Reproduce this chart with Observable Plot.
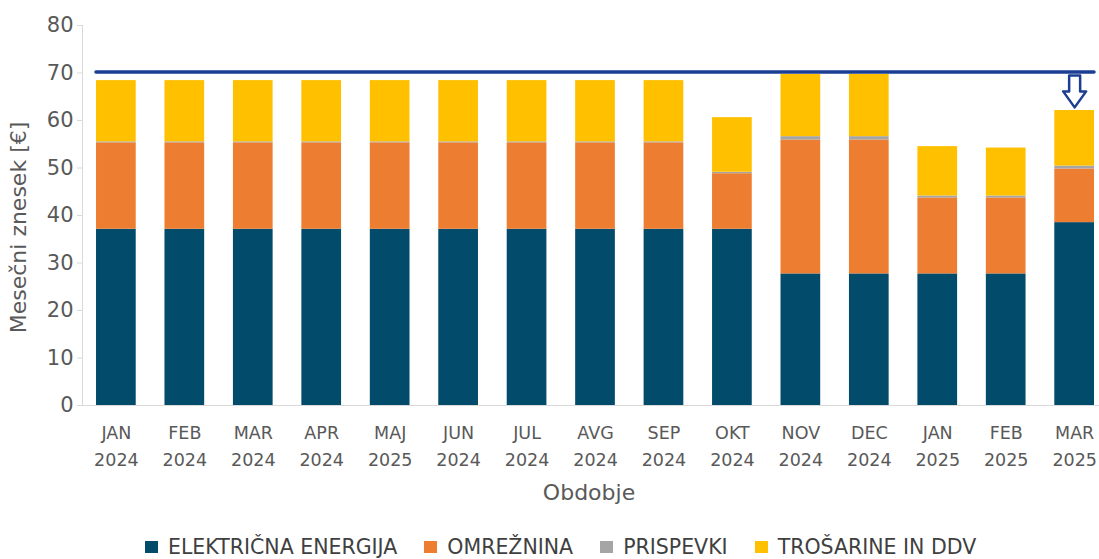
<!DOCTYPE html>
<html>
<head>
<meta charset="utf-8">
<script src="https://cdn.jsdelivr.net/npm/d3@7"></script>
<script src="https://cdn.jsdelivr.net/npm/@observablehq/plot@0.6"></script>
<style>
  html, body { margin: 0; padding: 0; background: #fff; overflow: hidden; }
  #chart { width: 1099px; height: 525px; }
  #legend { width: 1099px; margin-top: 11px; padding-left: 145px; box-sizing: border-box; }
  #legend > div { min-height: 22px !important; height: 22px; margin: 0 !important; line-height: 1 !important; }
  #legend span { margin-right: 27px !important; line-height: 1 !important; }
  #legend svg { margin-right: 10px !important; }
</style>
</head>
<body>
<div id="chart"></div>
<div id="legend"></div>
<script>
const months = ["JAN 2024","FEB 2024","MAR 2024","APR 2024","MAJ 2025","JUN 2024","JUL 2024","AVG 2024","SEP 2024","OKT 2024","NOV 2024","DEC 2024","JAN 2025","FEB 2025","MAR 2025"];
const series = ["ELEKTRIČNA ENERGIJA", "OMREŽNINA", "PRISPEVKI", "TROŠARINE IN DDV"];
const colors = ["#034b6a", "#ed7d31", "#a5a5a5", "#ffc000"];
const energija  = [37.1, 37.1, 37.1, 37.1, 37.1, 37.1, 37.1, 37.1, 37.1, 37.1, 27.7, 27.7, 27.7, 27.7, 38.5];
const omreznina = [18.2, 18.2, 18.2, 18.2, 18.2, 18.2, 18.2, 18.2, 18.2, 11.7, 28.2, 28.2, 16.0, 16.0, 11.3];
const prispevki = [0.2, 0.2, 0.2, 0.2, 0.2, 0.2, 0.2, 0.2, 0.2, 0.3, 0.7, 0.7, 0.4, 0.4, 0.6];
const trosarine = [12.9, 12.9, 12.9, 12.9, 12.9, 12.9, 12.9, 12.9, 12.9, 11.5, 13.1, 13.1, 10.4, 10.1, 11.7];
const limitValue = 70.2;
const yTicks = [0, 10, 20, 30, 40, 50, 60, 70, 80];
const yLabel = "Mesečni znesek [€]";
const xLabel = "Obdobje";
const arrowTop = 69.5;

const valuesBySeries = [energija, omreznina, prispevki, trosarine];
const data = [];
months.forEach((m, i) => {
  series.forEach((s, j) => data.push({month: m, series: s, value: valuesBySeries[j][i]}));
});
const limitRow = [{x1: months[0], x2: months[months.length - 1], y: limitValue}];

const font = "'DejaVu Sans', sans-serif";
const gray = "#595959";
const navy = "#1b3d93";

const hollowArrow = {
  draw(context, l) {
    const sw = 5.5, hw = 11.5, hl = 16;
    context.moveTo(-sw, 0);
    context.lineTo(-sw, -(l - hl));
    context.lineTo(-hw, -(l - hl));
    context.lineTo(0, -l);
    context.lineTo(hw, -(l - hl));
    context.lineTo(sw, -(l - hl));
    context.lineTo(sw, 0);
    context.closePath();
  }
};

const chart = Plot.plot({
  width: 1099,
  height: 525,
  marginTop: 25,
  marginBottom: 120,
  marginLeft: 82,
  marginRight: 0,
  style: {fontFamily: font, color: gray, background: "#fff"},
  x: {domain: months, paddingInner: 0.42, paddingOuter: 0.139, align: 0.737, round: false},
  y: {domain: [0, 80]},
  color: {domain: series, range: colors},
  marks: [
    Plot.frame({anchor: "left", stroke: "#d9d9d9"}),
    Plot.ruleY([0], {stroke: "#d9d9d9"}),
    Plot.barY(data, {x: "month", y: "value", fill: "series", order: series}),
    Plot.ruleY(limitRow, {x1: "x1", x2: "x2", y: "y", stroke: navy, strokeWidth: 3.5, strokeLinecap: "round"}),
    Plot.vector([{month: months[months.length - 1], y: arrowTop}], {
      x: "month", y: "y", length: 32, rotate: 180, anchor: "start",
      shape: hollowArrow, fill: "#fff", stroke: navy, strokeWidth: 2.5
    }),
    Plot.axisY({ticks: yTicks, tickSize: 5, tickPadding: 4, fontSize: 21, stroke: "#d9d9d9", fill: gray, label: null}),
    Plot.axisX({tickSize: 0, tickPadding: 14, fontSize: 17.5, lineHeight: 1.55, fill: gray,
      tickFormat: d => d.replace(" ", "\n"), label: null}),
    Plot.text([yLabel], {frameAnchor: "left", textAnchor: "middle", rotate: -90, dx: -64, dy: 12, fontSize: 22, fill: gray}),
    Plot.text([xLabel], {frameAnchor: "bottom", dx: -2, dy: 94, fontSize: 22, fill: gray})
  ]
});
document.getElementById("chart").appendChild(chart);

const legend = Plot.legend({
  color: {domain: series, range: colors},
  legend: "swatches",
  swatchWidth: 13,
  swatchHeight: 12,
  style: {fontFamily: font, fontSize: "20.5px", color: "#404040", marginLeft: "0px"}
});
document.getElementById("legend").appendChild(legend);
</script>
</body>
</html>
